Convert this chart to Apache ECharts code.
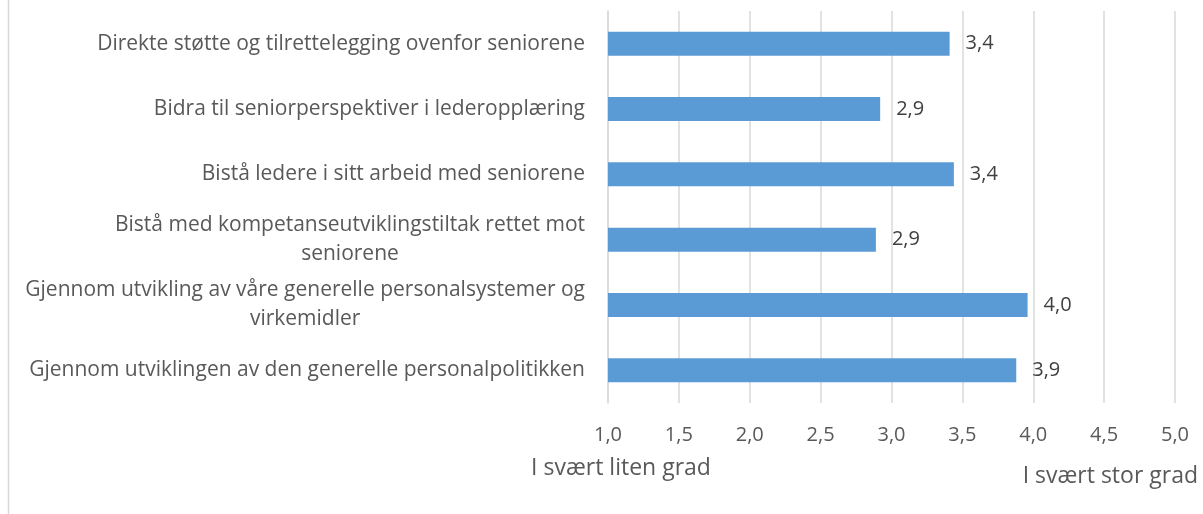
<!DOCTYPE html>
<html>
<head>
<meta charset="utf-8">
<script src="https://cdn.jsdelivr.net/npm/echarts@6/dist/echarts.min.js"></script>
<style>
  html, body { margin: 0; padding: 0; background: #fff; }
  #chart { width: 1203px; height: 514px; }
</style>
</head>
<body>
<div id="chart"></div>
<script>
// tiltak (top to bottom)
const categories = [
  'Direkte støtte og tilrettelegging ovenfor seniorene',
  'Bidra til seniorperspektiver i lederopplæring',
  'Bistå ledere i sitt arbeid med seniorene',
  'Bistå med kompetanseutviklingstiltak rettet mot\nseniorene',
  'Gjennom utvikling av våre generelle personalsystemer og\nvirkemidler',
  'Gjennom utviklingen av den generelle personalpolitikken'
]
// gjennomsnitt, skala 1-5
const values = [3.41, 2.92, 3.44, 2.89, 3.96, 3.88]
const axisMin = 1.0
const axisMax = 5.0
const axisStep = 0.5
const lowLabel = 'I svært liten grad'
const highLabel = 'I svært stor grad'

const font = '"Open Sans", sans-serif'
const chart = echarts.init(document.getElementById('chart'))

chart.setOption({
  animation: false,
  textStyle: { fontFamily: font },
  grid: {
    left: 608,
    right: 28,
    top: 11,
    bottom: 111,
    containLabel: false
  },
  xAxis: {
    type: 'value',
    min: axisMin,
    max: axisMax,
    interval: axisStep,
    axisLine: { show: false },
    axisTick: { show: false },
    axisLabel: {
      margin: 22,
      fontSize: 20,
      color: '#595959',
      fontFamily: font,
      formatter: v => v.toFixed(1).replace('.', ',')
    },
    splitLine: { show: true, lineStyle: { color: '#d9d9d9', width: 1.5 } }
  },
  yAxis: {
    type: 'category',
    inverse: true,
    data: categories,
    axisLine: { show: true, lineStyle: { color: '#d9d9d9', width: 1.5 } },
    axisTick: { show: false },
    axisLabel: {
      margin: 23,
      fontSize: 21,
      color: '#595959',
      fontFamily: font,
      lineHeight: 29,
      formatter: v => v.split('\n').map(s => '{c|' + s + '}').join('\n'),
      rich: {
        c: { align: 'center', fontSize: 21, color: '#595959', fontFamily: font, lineHeight: 29 }
      }
    }
  },
  series: [{
    type: 'bar',
    data: values,
    barWidth: 24,
    itemStyle: { color: '#5b9bd5' },
    label: {
      show: true,
      position: 'right',
      distance: 16,
      fontSize: 20,
      color: '#404040',
      fontFamily: font,
      formatter: p => p.value.toFixed(1).replace('.', ',')
    }
  }],
  graphic: [
    {
      type: 'line',
      shape: { x1: 8.5, y1: 0, x2: 8.5, y2: 514 },
      style: { stroke: '#d9d9d9', lineWidth: 1.5 }
    },
    {
      type: 'text',
      x: 621,
      y: 468,
      style: { text: lowLabel, fontSize: 23, fill: '#595959', fontFamily: font, align: 'center', verticalAlign: 'middle' }
    },
    {
      type: 'text',
      x: 1198,
      y: 476,
      style: { text: highLabel, fontSize: 23, fill: '#595959', fontFamily: font, align: 'right', verticalAlign: 'middle' }
    }
  ]
})
</script>
</body>
</html>
